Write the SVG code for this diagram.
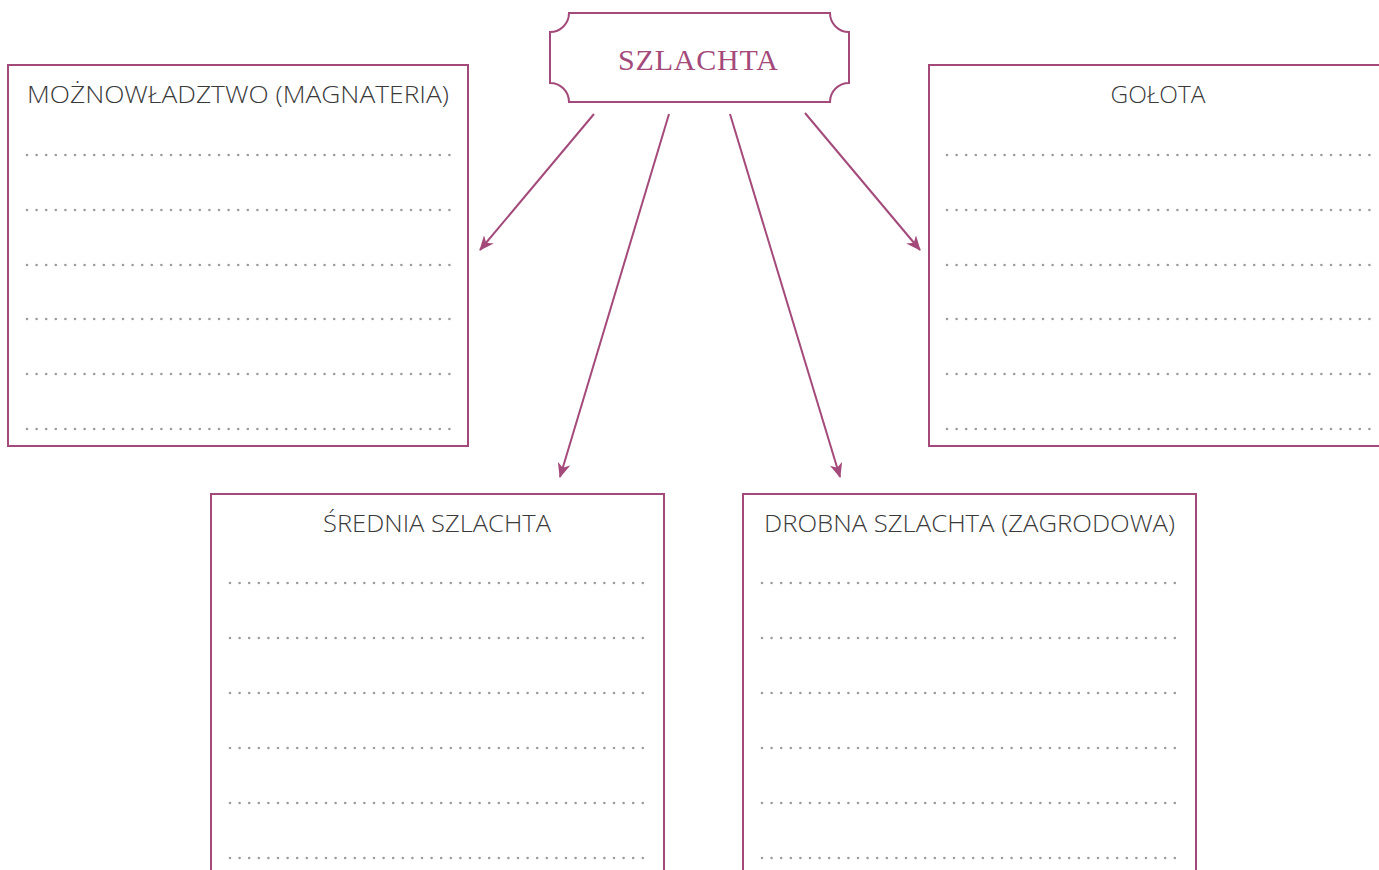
<svg xmlns="http://www.w3.org/2000/svg" width="1379" height="870" viewBox="0 0 1379 870">
<style>
.box{fill:#fff;stroke:#a34a7b;stroke-width:2}
.lbl{font-family:"Open Sans","Liberation Sans",sans-serif;font-size:24px;font-weight:300;fill:#3a3a3a;text-anchor:middle}
.dots{stroke:#9c9c9c;stroke-width:2.6;stroke-linecap:round;stroke-dasharray:0 9.6;fill:none}
.conn{stroke:#a34a7b;stroke-width:2;fill:none;marker-end:url(#ah)}
.title{font-family:"Liberation Serif","DejaVu Serif",serif;font-size:30px;fill:#a34a7b;text-anchor:middle;letter-spacing:2px}
</style>
<defs>
<marker id="ah" viewBox="0 0 14 12" refX="13" refY="6" markerWidth="7.5" markerHeight="6.4" markerUnits="strokeWidth" orient="auto">
<path d="M0,0 L14,6 L0,12 L4,6 Z" fill="#a34a7b"/>
</marker>
</defs>
<rect width="1379" height="870" fill="#fff"/>
<g id="connectors">
<line class="conn" x1="594" y1="114" x2="480" y2="250"/>
<line class="conn" x1="669" y1="114" x2="560" y2="477"/>
<line class="conn" x1="730" y1="114" x2="840" y2="477"/>
<line class="conn" x1="805" y1="113" x2="920" y2="250"/>
</g>
<g id="szlachta">
<path class="box" d="M569,13 H830 A19,19 0 0 0 849,32 V83 A19,19 0 0 0 830,102 H569 A19,19 0 0 0 550,83 V32 A19,19 0 0 0 569,13 Z"/>
<text class="title" x="699" y="70" textLength="162">SZLACHTA</text>
</g>
<g id="mozno">
<rect class="box" x="8" y="65" width="460" height="381"/>
<text class="lbl" x="238" y="103" textLength="422" lengthAdjust="spacingAndGlyphs">MOŻNOWŁADZTWO (MAGNATERIA)</text>
<path class="dots" d="M27,155 H450 M27,210 H450 M27,265 H450 M27,319 H450 M27,374 H450 M27,429 H450"/>
</g>
<g id="golota">
<rect class="box" x="929" y="65" width="460" height="381"/>
<text class="lbl" x="1158" y="103" textLength="95" lengthAdjust="spacingAndGlyphs">GOŁOTA</text>
<path class="dots" d="M947,155 H1371 M947,210 H1371 M947,265 H1371 M947,319 H1371 M947,374 H1371 M947,429 H1371"/>
</g>
<g id="srednia">
<rect class="box" x="211" y="494" width="453" height="400"/>
<text class="lbl" x="437" y="532" textLength="228" lengthAdjust="spacingAndGlyphs">ŚREDNIA SZLACHTA</text>
<path class="dots" d="M230,583 H648 M230,638 H648 M230,693 H648 M230,748 H648 M230,803 H648 M230,858 H648"/>
</g>
<g id="drobna">
<rect class="box" x="743" y="494" width="453" height="400"/>
<text class="lbl" x="969.5" y="532" textLength="411" lengthAdjust="spacingAndGlyphs">DROBNA SZLACHTA (ZAGRODOWA)</text>
<path class="dots" d="M762,583 H1180 M762,638 H1180 M762,693 H1180 M762,748 H1180 M762,803 H1180 M762,858 H1180"/>
</g>
</svg>
